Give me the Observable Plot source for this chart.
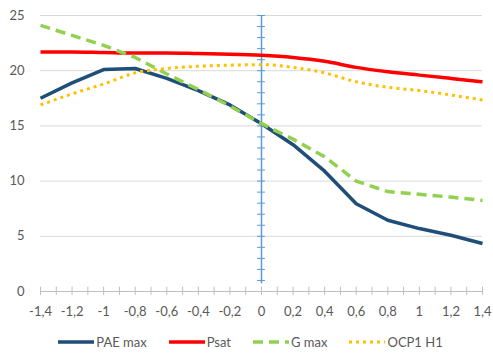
<!DOCTYPE html>
<html>
<head>
<meta charset="utf-8">
<script src="https://cdn.jsdelivr.net/npm/d3@7"></script>
<script src="https://cdn.jsdelivr.net/npm/@observablehq/plot@0.6"></script>
<style>
  body { margin: 0; background: #fff; font-family: Lato, "Open Sans", sans-serif; }
  #legend { display: flex; justify-content: center; align-items: center; gap: 22px; font-size: 13px; color: #595959; height: 28px; margin-left: 8px; }
  .item { display: flex; align-items: center; gap: 2px; }
</style>
</head>
<body>
<div id="chart"></div>
<div id="legend"></div>
<script>
const xValues = [-1.4, -1.2, -1.0, -0.8, -0.6, -0.4, -0.2, 0, 0.2, 0.4, 0.6, 0.8, 1.0, 1.2, 1.4];
const paeMax  = [17.5, 18.9, 20.1, 20.2, 19.3, 18.2, 16.9, 15.2, 13.3, 10.9, 7.95, 6.45, 5.7, 5.1, 4.35];
const psat    = [21.7, 21.7, 21.65, 21.6, 21.6, 21.55, 21.5, 21.4, 21.2, 20.85, 20.3, 19.9, 19.6, 19.3, 19.0];
const gMax    = [24.1, 23.2, 22.3, 21.2, 19.7, 18.3, 16.8, 15.2, 13.8, 12.2, 10.0, 9.05, 8.8, 8.55, 8.25];
const ocp1H1  = [16.9, 17.9, 18.8, 19.8, 20.2, 20.4, 20.5, 20.55, 20.3, 19.8, 19.0, 18.5, 18.2, 17.8, 17.35];
const xTicks = [-1.4, -1.2, -1, -0.8, -0.6, -0.4, -0.2, 0, 0.2, 0.4, 0.6, 0.8, 1, 1.2, 1.4];
const yTicks = [0, 5, 10, 15, 20, 25];
const seriesNames = ["PAE max", "Psat", "G max", "OCP1 H1"];

const seriesStyle = {
  "PAE max": {stroke: "#1F4E79", strokeWidth: 3.5, dash: null, curve: "linear"},
  "Psat":    {stroke: "#FF0000", strokeWidth: 3.5, dash: null, curve: "monotone-x"},
  "G max":   {stroke: "#92D050", strokeWidth: 3.5, dash: "10,6", curve: "linear"},
  "OCP1 H1": {stroke: "#FFC000", strokeWidth: 3, dash: "3,4", curve: "monotone-x"}
};
const seriesValues = {"PAE max": paeMax, "Psat": psat, "G max": gMax, "OCP1 H1": ocp1H1};

const minorX = d3.range(-14, 15).map(i => i / 10);
const minorY = d3.range(1, 26);
const fmt = d => String(d).replace(".", ",");

const lineMarks = seriesNames.map(name => {
  const s = seriesStyle[name];
  const rows = xValues.map((x, i) => ({x, y: seriesValues[name][i]}));
  return Plot.line(rows, {x: "x", y: "y", stroke: s.stroke, strokeWidth: s.strokeWidth,
    strokeDasharray: s.dash, curve: s.curve, strokeLinecap: "butt", strokeLinejoin: "round"});
});

const chart = Plot.plot({
  width: 493,
  height: 328,
  marginLeft: 40,
  marginRight: 11,
  marginTop: 15,
  marginBottom: 37,
  style: {fontFamily: "Lato, 'Open Sans', sans-serif", fontSize: "13px", color: "#595959", background: "#fff"},
  x: {domain: [-1.4, 1.4], ticks: xTicks, tickFormat: fmt, tickSize: 0, tickPadding: 15, label: null},
  y: {domain: [0, 25], ticks: yTicks, tickSize: 0, tickPadding: 16, label: null},
  marks: [
    Plot.ruleY(yTicks.filter(d => d > 0), {stroke: "#d9d9d9", strokeWidth: 1}),
    Plot.ruleY([0], {stroke: "#bfbfbf", strokeWidth: 1}),
    Plot.ruleX(minorX, {y1: -0.35, y2: 0.4, stroke: "#bfbfbf", strokeWidth: 1}),
    Plot.ruleX([0], {y1: 0.7, y2: 25, stroke: "#5B9BD5", strokeWidth: 1.5}),
    Plot.ruleY(minorY, {x1: -0.025, x2: 0.025, stroke: "#5B9BD5", strokeWidth: 1}),
    ...lineMarks
  ]
});
document.getElementById("chart").appendChild(chart);

const legend = document.getElementById("legend");
for (const name of seriesNames) {
  const s = seriesStyle[name];
  const item = document.createElement("div");
  item.className = "item";
  item.innerHTML = `<svg width="36" height="8"><line x1="0" x2="36" y1="4" y2="4" stroke="${s.stroke}" stroke-width="${s.strokeWidth}" ${s.dash ? `stroke-dasharray="${s.dash}"` : ""}/></svg><span>${name}</span>`;
  legend.appendChild(item);
}
</script>
</body>
</html>
